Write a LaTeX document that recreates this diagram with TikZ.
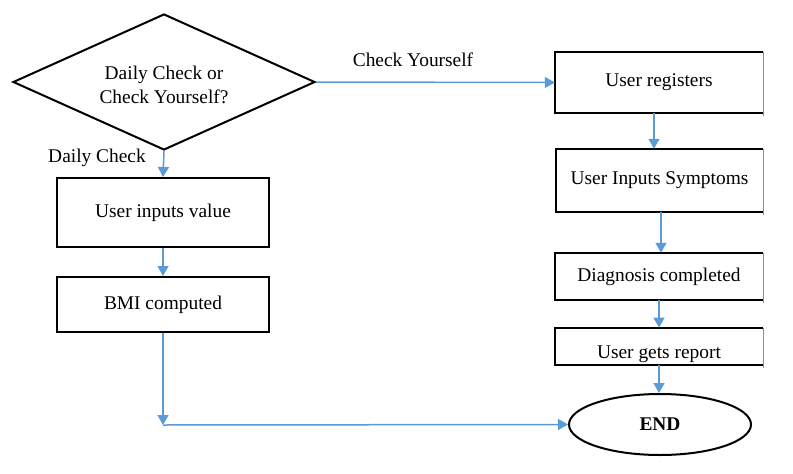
\documentclass[tikz,border=0pt]{standalone}
\usepackage{fontspec}
\setmainfont{Liberation Serif}
\usetikzlibrary{shapes.geometric,arrows.meta}
\definecolor{flowblue}{RGB}{91,155,213}
\tikzset{
  every node/.style={font=\fontsize{19.4}{23.5}\selectfont},
  box/.style={draw=black,line width=2pt,rectangle,inner sep=0pt},
  rbox/.style={rectangle,inner sep=0pt},
  flow/.style={draw=flowblue,line width=1.5pt,-{Triangle[length=10pt,width=11pt]}},
  edgeblue/.style={draw=flowblue,line width=1pt},
  boxline/.style={draw=black,line width=2pt},
}
\begin{document}
\begin{tikzpicture}[x=1pt,y=-1pt]
\useasboundingbox (0,0) rectangle (793,474);
% decision
\node[diamond,draw=black,line width=2pt,inner sep=0pt,aspect=2.22,minimum width=302pt,minimum height=136pt] (dec) at (164,82) {};
\node[align=center] (dectext) at (164,85) {Daily Check or\\Check Yourself?};
% left column
\node[box,minimum width=212pt,minimum height=69pt] (uiv) at (163,212.5) {User inputs value};
\node[box,minimum width=212pt,minimum height=55pt] (bmi) at (163,304.5) {BMI computed};
% right column
\node[rbox,minimum width=208pt,minimum height=61pt] (reg) at (659,82.5) {User registers};
\node[rbox,minimum width=207pt,minimum height=63pt] (sym) at (659.5,180.5) {User Inputs Symptoms};
\node[rbox,minimum width=208pt,minimum height=47pt] (dia) at (659,276.5) {Diagnosis completed};
\node[rbox,minimum width=208pt,minimum height=37pt,anchor=south] (rep) at (659,365) {};
\node[anchor=base] (reptext) at (659,358) {User gets report};
\foreach \b in {reg,sym,dia,rep}{
  \draw[boxline] (\b.north east) -- (\b.north west) -- (\b.south west) -- (\b.south east);
  \draw[edgeblue] (\b.north east) -- ([yshift=-3pt]\b.south east);
}
\node[ellipse,draw=black,line width=2pt,minimum width=182pt,minimum height=61pt,inner sep=0pt,font=\fontsize{19.4}{23.5}\selectfont\bfseries] (end) at (660,424.5) {END};
% labels
\node (lbdaily) at (97,158) {Daily Check};
\node (lbcheck) at (413,60) {Check Yourself};
% connectors
\coordinate (corner) at (163,425);
\draw[flow] (dec.south) -- (uiv.north);
\draw[flow] (uiv.south) -- (bmi.north);
\draw[flow] (dec.east) -- (reg.west);
\draw[flow] ([xshift=-5pt]reg.south) -- ([xshift=-5.5pt]sym.north);
\draw[flow] ([xshift=1.5pt]sym.south) -- ([xshift=2pt]dia.north);
\draw[flow] (dia.south) -- (rep.north);
\draw[flow] (rep.south) -- ([xshift=-1pt]end.north);
\draw[flow] (bmi.south) -- (corner);
\draw[flow] (corner) -- (end.west);
\end{tikzpicture}
\end{document}
